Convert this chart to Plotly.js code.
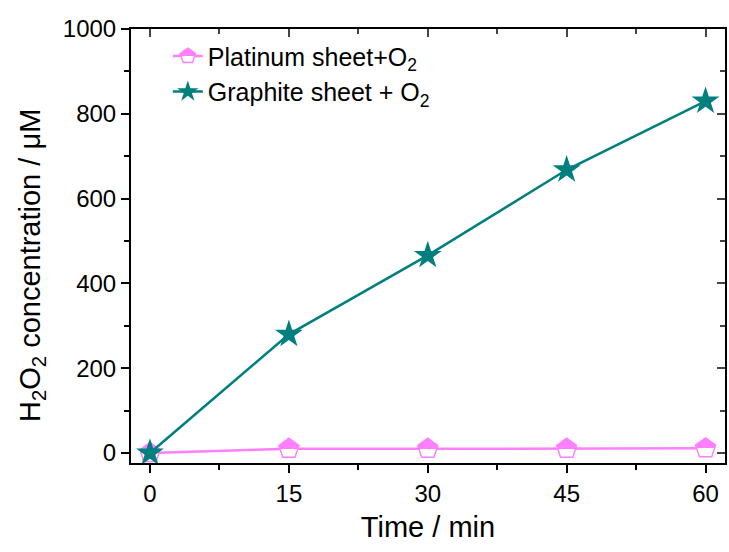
<!DOCTYPE html>
<html><head><meta charset="utf-8">
<script src="https://cdn.plot.ly/plotly-3.0.1.min.js"></script>
<style>body{margin:0}#c{width:729px;height:552px}</style></head>
<body><div id="c"></div>
<script>
const times = [0, 15, 30, 45, 60];
const platinum = [0, 10, 10, 10, 11];
const graphite = [0, 280, 466, 668, 830];
const xTicks = [0, 15, 30, 45, 60];
const yTicks = [0, 200, 400, 600, 800, 1000];
const pink = '#FF7FFF', teal = '#007F7F';
const F = 'Arial, "Liberation Sans", sans-serif';
const traces = [
  {x: times, y: platinum, mode: 'lines+markers', name: 'Platinum sheet+O<sub>2</sub>',
   line: {color: pink, width: 2.5},
   marker: {symbol: 'pentagon', size: 21, color: pink, line: {color: pink, width: 1.5},
            gradient: {type: 'vertical', color: 'white'}}},
  {x: times, y: graphite, mode: 'lines+markers', name: 'Graphite sheet + O<sub>2</sub>',
   line: {color: teal, width: 2.5},
   marker: {symbol: 'star', size: 21, color: teal}}
];
const ax = {showline: true, linecolor: 'black', linewidth: 2, ticks: 'outside', ticklen: 8,
  tickwidth: 2, tickcolor: 'black', showgrid: false, zeroline: false,
  tickfont: {family: F, size: 24, color: 'black'},
  minor: {ticks: 'outside', ticklen: 5, tickwidth: 2, tickcolor: 'black', showgrid: false}};
const layout = {
  width: 729, height: 552, margin: {l: 131, r: 4, t: 29, b: 89},
  paper_bgcolor: 'white', plot_bgcolor: 'white', font: {family: F, color: 'black'},
  showlegend: true,
  legend: {x: 0.062, y: 0.99, xanchor: 'left', yanchor: 'top', bgcolor: 'rgba(0,0,0,0)',
           font: {family: F, size: 25, color: 'black'}},
  xaxis: Object.assign({}, ax, {range: [-2.05, 62.1], tickvals: xTicks, ticktext: xTicks.map(String),
    minor: Object.assign({}, ax.minor, {dtick: 7.5, tick0: 0}),
    title: {text: 'Time / min', font: {family: F, size: 29, color: 'black'}, standoff: 11}}),
  yaxis: Object.assign({}, ax, {range: [-23.5, 1000], tickvals: yTicks, ticktext: yTicks.map(String),
    minor: Object.assign({}, ax.minor, {dtick: 100, tick0: 0})}),
  xaxis2: {overlaying: 'x', side: 'top', range: [-2.05, 62.1], showline: true, linecolor: 'black', linewidth: 2,
    ticks: 'inside', ticklen: 8, tickwidth: 2, tickvals: xTicks, showticklabels: false, showgrid: false, zeroline: false,
    minor: {ticks: 'inside', ticklen: 5, tickwidth: 2, dtick: 7.5, tick0: 0, showgrid: false}},
  yaxis2: {overlaying: 'y', side: 'right', range: [-23.5, 1000], showline: true, linecolor: 'black', linewidth: 2,
    ticks: 'inside', ticklen: 8, tickwidth: 2, tickvals: yTicks, showticklabels: false, showgrid: false, zeroline: false,
    minor: {ticks: 'inside', ticklen: 5, tickwidth: 2, dtick: 100, tick0: 0, showgrid: false}},
  annotations: [{text: 'H<sub>2</sub>O<sub>2</sub> concentration / μM', textangle: -90,
    xref: 'paper', yref: 'paper', x: 0, y: 0.5, xanchor: 'center', yanchor: 'middle',
    xshift: -99, yshift: -20, showarrow: false, font: {family: F, size: 29, color: 'black'}}]
};
traces.push({x: [], y: [], xaxis: 'x2', yaxis: 'y2', showlegend: false, hoverinfo: 'skip'});
Plotly.newPlot('c', traces, layout, {displayModeBar: false}).then(function () {
  // half-filled pentagon: sharp split between pink top and white bottom
  document.querySelectorAll('#c linearGradient').forEach(function (g) {
    g.setAttribute('x1', '0'); g.setAttribute('y1', '0');
    g.setAttribute('x2', '0'); g.setAttribute('y2', '1');
    while (g.firstChild) g.removeChild(g.firstChild);
    [[0, pink], [0.55, pink], [0.55, '#ffffff'], [1, '#ffffff']].forEach(function (s) {
      const st = document.createElementNS('http://www.w3.org/2000/svg', 'stop');
      st.setAttribute('offset', s[0]); st.setAttribute('stop-color', s[1]);
      g.appendChild(st);
    });
  });
});
</script></body></html>
